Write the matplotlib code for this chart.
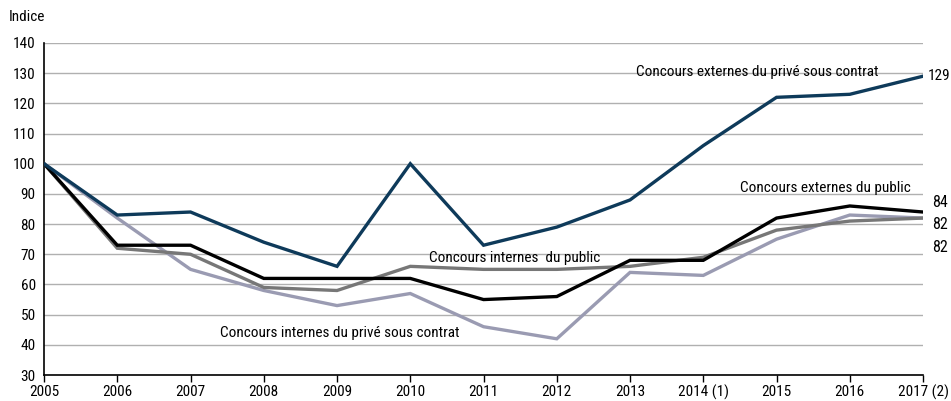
import matplotlib
matplotlib.use("Agg")
import matplotlib.pyplot as plt

plt.rcParams['font.family'] = ['Roboto Condensed', 'DejaVu Sans']

years = ["2005", "2006", "2007", "2008", "2009", "2010", "2011", "2012",
         "2013", "2014 (1)", "2015", "2016", "2017 (2)"]
ext_prive = [100, 83, 84, 74, 66, 100, 73, 79, 88, 106, 122, 123, 129]
ext_public = [100, 73, 73, 62, 62, 62, 55, 56, 68, 68, 82, 86, 84]
int_public = [100, 72, 70, 59, 58, 66, 65, 65, 66, 69, 78, 81, 82]
int_prive = [100, 82, 65, 58, 53, 57, 46, 42, 64, 63, 75, 83, 82]

fig = plt.figure(figsize=(9.51, 4.01), dpi=100)
ax = fig.add_axes([0.0463, 0.0648, 0.9243, 0.828])

x = list(range(len(years)))
lw = 2.4
ax.plot(x, int_prive, color="#9a9bb2", lw=lw, solid_joinstyle="miter", zorder=3)
ax.plot(x, int_public, color="#777777", lw=lw, solid_joinstyle="miter", zorder=4)
ax.plot(x, ext_public, color="#000000", lw=lw, solid_joinstyle="miter", zorder=5)
ax.plot(x, ext_prive, color="#0e3a5a", lw=lw, solid_joinstyle="miter", zorder=6)

ax.set_xlim(0, len(years) - 1)
ax.set_ylim(30, 140)
ax.set_yticks(range(30, 141, 10))
ax.set_xticks(x)
ax.set_xticklabels(years, fontsize=11)
ax.tick_params(axis="y", length=0, labelsize=11, pad=6)
ax.tick_params(axis="x", length=5, width=1, direction="out", pad=2)
ax.grid(axis="y", color="#b0b0b0", lw=1)
ax.set_axisbelow(True)
for s in ["top", "right"]:
    ax.spines[s].set_visible(False)
ax.spines["left"].set_linewidth(1.2)
ax.spines["bottom"].set_linewidth(1.2)

fig.text(0.009, 0.958, "Indice", fontsize=11, va="center")

fs = 11
ax.text(11.39, 130.3, "Concours externes du privé sous contrat", fontsize=fs, ha="right", va="center")
ax.text(11.83, 91.8, "Concours externes du public", fontsize=fs, ha="right", va="center")
ax.text(5.26, 68.9, "Concours internes  du public", fontsize=fs, ha="left", va="center")
ax.text(2.4, 44, "Concours internes du privé sous contrat", fontsize=fs, ha="left", va="center")

ax.text(12.07, ext_prive[-1], str(ext_prive[-1]), fontsize=11, va="center", clip_on=False)
ax.text(12.12, 87, str(ext_public[-1]), fontsize=11.5, va="center", clip_on=False)
ax.text(12.12, 79.7, str(int_public[-1]), fontsize=11.5, va="center", clip_on=False)
ax.text(12.12, 72.4, str(int_prive[-1]), fontsize=11.5, va="center", clip_on=False)

fig.savefig("out.png", dpi=100)
